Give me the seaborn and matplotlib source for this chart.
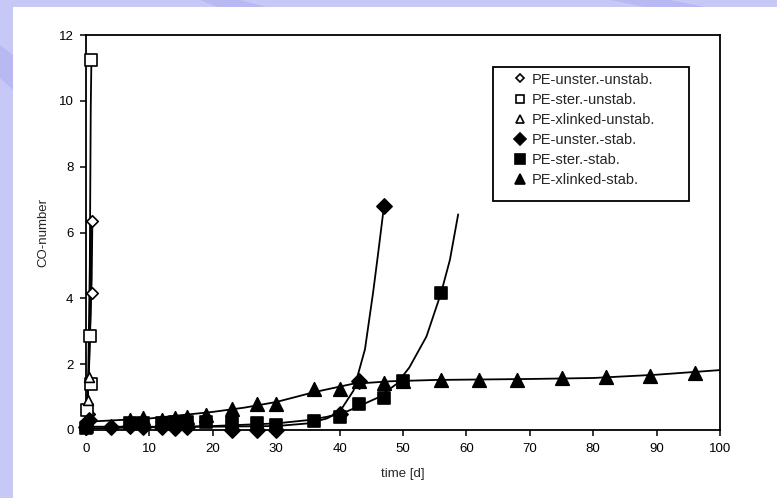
import matplotlib
matplotlib.use("Agg")
import matplotlib.pyplot as plt
from matplotlib.lines import Line2D
from matplotlib.patches import Rectangle, Polygon
import numpy as np
import seaborn as sns

# ---- measured points: time [d] and CO-number ----
unster_unstab_t = [0.0, 0.4, 1.0, 1.0]
unster_unstab_co = [0.05, 0.5, 4.15, 6.35]
ster_unstab_t = [0.1, 0.2, 0.8, 0.7, 0.8]
ster_unstab_co = [0.1, 0.6, 1.4, 2.85, 11.25]
xlinked_unstab_t = [0.0, 0.3, 0.5]
xlinked_unstab_co = [0.1, 0.9, 1.6]

unster_stab_t = [0, 0.5, 4, 7, 9, 12, 14, 16, 23, 27, 30, 40, 43, 47]
unster_stab_co = [0.1, 0.3, 0.08, 0.12, 0.08, 0.08, 0.05, 0.1, 0.0, 0.0, 0.0, 0.5, 1.5, 6.8]
ster_stab_t = [0, 7, 9, 12, 14, 16, 19, 23, 27, 30, 36, 40, 43, 47, 50, 56]
ster_stab_co = [0.05, 0.2, 0.2, 0.2, 0.25, 0.25, 0.25, 0.2, 0.2, 0.15, 0.28, 0.4, 0.8, 0.97, 1.5, 4.17]
xlinked_stab_t = [0, 7, 9, 12, 14, 16, 19, 23, 27, 30, 36, 40, 43, 47, 50, 56, 62, 68, 75, 82, 89, 96]
xlinked_stab_co = [0.2, 0.3, 0.35, 0.3, 0.35, 0.4, 0.45, 0.65, 0.78, 0.78, 1.25, 1.25, 1.5, 1.43,
                   1.48, 1.52, 1.52, 1.52, 1.57, 1.62, 1.64, 1.74]

# ---- fitted curves ----
fit_ster_unstab_t = [0.0, 0.3, 0.6, 0.75, 0.85]
fit_ster_unstab_co = [0.0, 1.0, 5.0, 9.8, 11.2]
fit_unster_unstab_t = [0.0, 0.5, 0.9, 1.0]
fit_unster_unstab_co = [0.0, 2.0, 4.6, 6.3]
fit_xlinked_unstab_t = [0.0, 0.4, 0.7, 0.8]
fit_xlinked_unstab_co = [0.0, 1.5, 3.5, 6.3]

fit_unster_stab_t = [0, 10, 20, 30, 35, 38, 40, 42.2, 44, 45.3, 46.1, 47]
fit_unster_stab_co = [0.1, 0.1, 0.1, 0.12, 0.2, 0.35, 0.55, 1.2, 2.45, 4.2, 5.4, 6.8]
fit_ster_stab_t = [0, 10, 20, 30, 35, 38, 41, 43, 46, 49, 51, 53.7, 56, 57.4, 58.7]
fit_ster_stab_co = [0.05, 0.08, 0.12, 0.2, 0.3, 0.4, 0.55, 0.72, 0.98, 1.4, 1.9, 2.84, 4.16, 5.17, 6.55]
fit_xlinked_stab_t = [0, 10, 20, 25, 30, 36, 42, 48, 55, 70, 80, 90, 100]
fit_xlinked_stab_co = [0.25, 0.35, 0.55, 0.68, 0.85, 1.15, 1.4, 1.48, 1.52, 1.55, 1.58, 1.68, 1.82]

series_names = ["PE-unster.-unstab.", "PE-ster.-unstab.", "PE-xlinked-unstab.",
                "PE-unster.-stab.", "PE-ster.-stab.", "PE-xlinked-stab."]
x_ticks = list(range(0, 101, 10))
y_ticks = list(range(0, 13, 2))

sns.set_style("ticks")
plt.rcParams["font.family"] = ["Liberation Sans", "DejaVu Sans"]

W, H = 777, 498
fig = plt.figure(figsize=(W / 100, H / 100), dpi=100)
fig.patch.set_facecolor("#c8c8f6")

# slide background: lavender with soft diagonal streaks, white panel
def fig_poly(pts, color):
    fig.patches.append(Polygon([(x / W, 1 - y / H) for x, y in pts], closed=True,
                               transform=fig.transFigure, facecolor=color,
                               edgecolor="none", zorder=-2))

fig_poly([(200, 0), (240, 0), (270, 8), (220, 8)], "#b8b8f3")
fig_poly([(610, 0), (670, 0), (710, 8), (650, 8)], "#b8b8f3")
fig_poly([(0, 45), (13, 55), (13, 90), (0, 78)], "#b8b8f3")
fig.patches.append(Rectangle((13 / W, 0), 1 - 13 / W, 1 - 7 / H, transform=fig.transFigure,
                             facecolor="white", edgecolor="none", zorder=-1))

ax = fig.add_axes([86 / W, 1 - 430 / H, (720 - 86) / W, (430 - 35) / H])
ax.set_facecolor("white")

line_kw = dict(color="black", linewidth=1.3, sort=False, estimator=None, legend=False, ax=ax)
for t, co in [(fit_ster_unstab_t, fit_ster_unstab_co),
              (fit_unster_unstab_t, fit_unster_unstab_co),
              (fit_xlinked_unstab_t, fit_xlinked_unstab_co),
              (fit_unster_stab_t, fit_unster_stab_co),
              (fit_ster_stab_t, fit_ster_stab_co),
              (fit_xlinked_stab_t, fit_xlinked_stab_co)]:
    sns.lineplot(x=t, y=co, **line_kw)

styles = [
    (unster_unstab_t, unster_unstab_co, "D", "white", 34),
    (ster_unstab_t, ster_unstab_co, "s", "white", 64),
    (xlinked_unstab_t, xlinked_unstab_co, "^", "white", 50),
    (unster_stab_t, unster_stab_co, "D", "black", 60),
    (ster_stab_t, ster_stab_co, "s", "black", 85),
    (xlinked_stab_t, xlinked_stab_co, "^", "black", 95),
]
for t, co, m, fc, s in styles:
    sns.scatterplot(x=t, y=co, marker=m, s=s, facecolor=fc, edgecolor="black",
                    linewidth=1.2, legend=False, ax=ax, zorder=3, clip_on=False)

ax.set_xlim(0, 100)
ax.set_ylim(0, 12)
ax.set_xticks(x_ticks)
ax.set_yticks(y_ticks)
ax.tick_params(direction="out", length=4, width=1.1, labelsize=9.5, colors="black", pad=5)
for sp in ax.spines.values():
    sp.set_visible(True)
    sp.set_linewidth(1.3)
    sp.set_color("black")

ax.set_xlabel("time [d]", fontsize=9.5, labelpad=10)
ax.set_ylabel("CO-number", fontsize=9.5, labelpad=7)

# legend box drawn as a plain rectangle, entries placed inside it without a frame
ax.add_patch(Rectangle((0.642, 0.58), 0.309, 0.339, transform=ax.transAxes,
                       facecolor="white", edgecolor="black", linewidth=1.3, zorder=4))
handles = [Line2D([], [], linestyle="none", marker=m, markersize=np.sqrt(s) * 0.75,
                  markerfacecolor=fc, markeredgecolor="black", markeredgewidth=1.2)
           for _, _, m, fc, s in styles]
leg = ax.legend(handles, series_names, loc="upper left", bbox_to_anchor=(0.677, 0.905),
                frameon=False, fontsize=10.5, handlelength=0.7,
                handletextpad=0.45, labelspacing=0.42, borderpad=0,
                borderaxespad=0)
leg.set_zorder(5)

fig.savefig("out.png", dpi=100, facecolor=fig.get_facecolor())
